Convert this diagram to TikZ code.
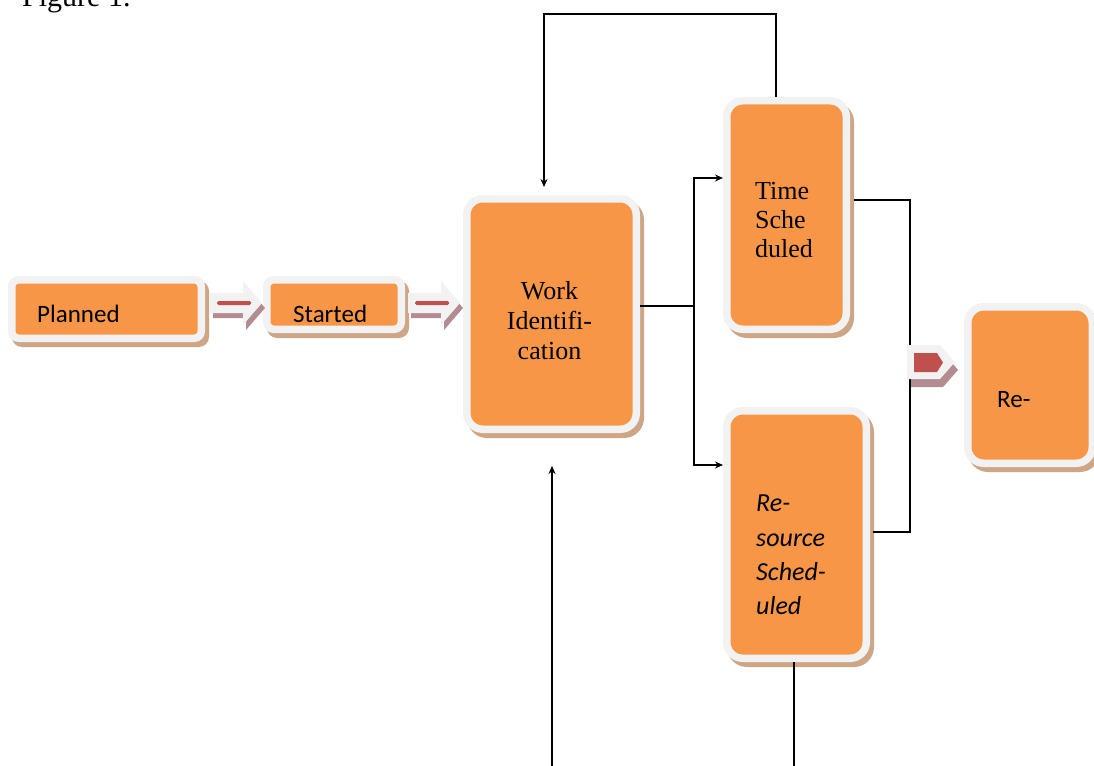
\documentclass[tikz,border=0pt]{standalone}
\usepackage{fontspec}
\setmainfont{Liberation Serif}
\newfontfamily\calfont{Carlito}
\usetikzlibrary{arrows.meta,backgrounds}
\definecolor{boxorange}{HTML}{F79646}
\definecolor{boxgrey}{HTML}{F2F2F2}
\definecolor{boxshadow}{RGB}{206,166,134}
\definecolor{arrred}{HTML}{C0504D}
\definecolor{arrshadow}{RGB}{178,140,145}
\tikzset{
  box/.style={draw=boxgrey, fill=boxorange, line width=7.5pt, inner sep=0pt, outer sep=3.75pt},
  bigbox/.style={box, rounded corners=16pt},
  smallbox/.style={box, rounded corners=7pt},
  conn/.style={draw=black, line width=1.3pt},
  tip/.style={conn, -{Stealth[length=8pt,width=7pt]}},
  sanstext/.style={inner sep=0pt, font=\calfont\fontsize{25}{30}\selectfont},
  seriftext/.style={inner sep=0pt, font=\fontsize{26}{30}\selectfont},
}
\begin{document}
\begin{tikzpicture}[x=1pt,y=-1pt]
\useasboundingbox (0,0) rectangle (1094,765);
\clip (0,0) rectangle (1094,765);

% caption (cut off at top)
\node[anchor=base west, inner sep=0pt, font=\fontsize{30}{36}\selectfont] (fig) at (22,7) {Figure 1.};

% boxes
\node[smallbox, minimum width=189.5pt, minimum height=58.5pt] (p) at (106.5,309) {};
\node[smallbox, minimum width=134.5pt, minimum height=49.5pt] (s) at (334,304.5) {};
\node[bigbox, minimum width=169.5pt, minimum height=230.5pt] (w) at (551.5,314) {};
\node[bigbox, minimum width=119.5pt, minimum height=228.5pt] (t) at (786.5,215) {};
\node[bigbox, minimum width=139.5pt, minimum height=247.5pt] (r) at (796.5,534.5) {};
\node[bigbox, minimum width=124.5pt, minimum height=156.5pt] (re) at (1030,385) {};

% background and shadows
\begin{scope}[on background layer]
  \fill[white] (0,0) rectangle (1094,765);
  \foreach \n/\rr in {p/10,s/10,w/20,t/20,r/20,re/20}{
    \fill[boxshadow, rounded corners=\rr pt] ([shift={(4,5)}]\n.north west) rectangle ([shift={(4,5)}]\n.south east);
  }
\end{scope}

% texts
\node[sanstext, anchor=base west] (tp) at (37,322) {Planned};
\node[sanstext, anchor=base west] (ts) at (293,322) {Started};
\node[seriftext, anchor=north, align=center] (tw) at (549.5,281.5) {Work\\Identifi-\\cation};
\node[seriftext, anchor=north west, align=left, font=\fontsize{26}{29}\selectfont] (tt) at (755,182) {Time\\Sche\\duled};
\node[inner sep=0pt, anchor=north west, align=left, font=\calfont\itshape\fontsize{26}{34.3}\selectfont] (tr) at (756,495) {Re-\\source\\Sched-\\uled};
\node[sanstext, anchor=base west] (tre) at (997,407) {Re-};

% block arrows
\foreach \x in {210,408}{
  \fill[arrshadow] (\x+3,298) -- (\x+36,298) -- (\x+36,286) -- (\x+55,308) -- (\x+36,330) -- (\x+36,318) -- (\x+3,318) -- cycle;
  \fill[boxgrey] (\x,293) -- (\x+33,293) -- (\x+33,281) -- (\x+52,303) -- (\x+33,325) -- (\x+33,313) -- (\x,313) -- cycle;
  \fill[arrred, rounded corners=1.5pt] (\x+7,301) rectangle (\x+41,305);
}
\fill[arrshadow] (910,352) -- (943,352) -- (958,370) -- (943,387) -- (910,387) -- cycle;

% connectors
\coordinate (split) at (694,306);
\draw[conn] (w.east |- split) -- (split);
\draw[tip] (split) |- (t.west |- 0,178);
\draw[tip] (split) |- (r.west |- 0,465);
\coordinate (loopTop) at (776,14);
\draw[tip] (t.north -| loopTop) -- (loopTop) -| ([yshift=8pt]w.north -| 544,0);
\coordinate (upStart) at (552,770);
\coordinate (upEnd) at (552,466);
\draw[tip] (upStart) -- (upEnd);
\coordinate (downEnd) at (794,770);
\draw[conn] (r.south -| downEnd) -- (downEnd);
\coordinate (joinTop) at (910,200);
\coordinate (joinBot) at (910,532);
\draw[conn] ([xshift=4pt]t.east |- joinTop) -- (joinTop) -- (joinBot) -- ([xshift=3pt]r.east |- joinBot);

% chevron to Re-
\fill[boxgrey] (907,345) -- (940,345) -- (955,362) -- (940,379) -- (907,379) -- cycle;
\fill[arrred] (914,353) -- (937,353) -- (943,362.5) -- (937,372) -- (914,372) -- cycle;
\end{tikzpicture}
\end{document}
